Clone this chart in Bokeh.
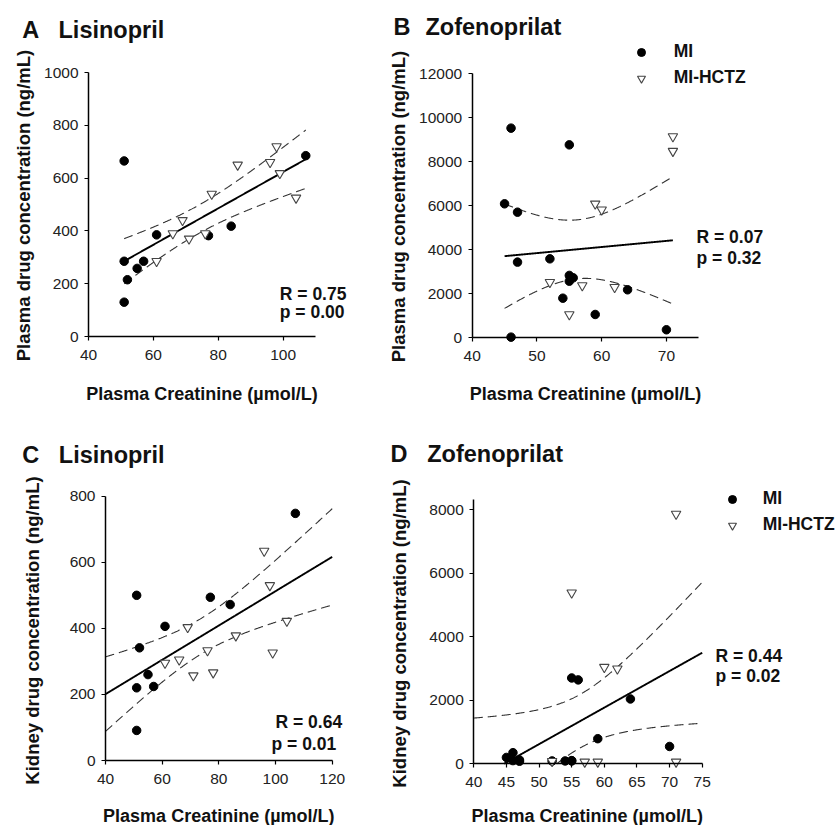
import numpy as np
from bokeh.plotting import figure
from bokeh.layouts import column, row
from bokeh.models import Label, Legend, LegendItem, Range1d, FixedTicker, LinearAxis
from bokeh.embed import file_html
from bokeh.resources import INLINE

# ---------------- data ----------------
# Panel A: Lisinopril, plasma
a_mi_x = [51, 51, 51, 52, 55, 57, 61, 77, 84, 107]
a_mi_y = [665, 285, 130, 215, 258, 285, 385, 382, 418, 685]
a_hctz_x = [61, 66, 69, 71, 76, 78, 86, 96, 98, 99, 104]
a_hctz_y = [285, 390, 440, 370, 390, 540, 650, 660, 720, 618, 525]

# Panel B: Zofenoprilat, plasma
b_mi_x = [46, 55, 45, 47, 47, 52, 55, 55, 55.6, 54, 59, 64, 70, 46]
b_mi_y = [9530, 8770, 6090, 5710, 3440, 3590, 2836, 2573, 2727, 1800, 1060, 2182, 365, 30]
b_hctz_x = [71, 71, 59, 60, 52, 57, 62, 55]
b_hctz_y = [9150, 8485, 6090, 5820, 2527, 2377, 2300, 1060]

# Panel C: Lisinopril, kidney
c_mi_x = [51, 52, 61, 55, 51, 57, 51, 77, 84, 107]
c_mi_y = [500, 341, 406, 260, 220, 224, 91, 494, 472, 748]
c_hctz_x = [69, 61, 66, 71, 76, 78, 86, 96, 98, 99, 104]
c_hctz_y = [403, 295, 305, 257, 333, 266, 378, 634, 530, 326, 422]

# Panel D: Zofenoprilat, kidney
d_mi_x = [45, 46, 46, 47, 47, 52, 54, 55, 55, 55, 56, 59, 64, 70]
d_mi_y = [200, 350, 100, 120, 80, 90, 90, 100, 2700, 90, 2640, 790, 2040, 545]
d_hctz_x = [52, 55, 57, 59, 60, 62, 71, 71]
d_hctz_y = [80, 5380, 60, 60, 3040, 2990, 7860, 60]

stats = {"A": ("R = 0.75", "p = 0.00"), "B": ("R = 0.07", "p = 0.32"),
         "C": ("R = 0.64", "p = 0.01"), "D": ("R = 0.44", "p = 0.02")}
drug = {"A": "Lisinopril", "B": "Zofenoprilat", "C": "Lisinopril", "D": "Zofenoprilat"}
xlabel = "Plasma Creatinine (\u00b5mol/L)"
ylab_plasma = "Plasma drug concentration (ng/mL)"
ylab_kidney = "Kidney drug concentration (ng/mL)"
legend_labels = ["MI", "MI-HCTZ"]

FONT = "Liberation Sans"


def fit_band(xs, ys, x0, x1, tcrit):
    x = np.asarray(xs, float)
    y = np.asarray(ys, float)
    n = len(x)
    b, a = np.polyfit(x, y, 1)
    xx = np.linspace(x0, x1, 400)
    yy = a + b * xx
    s = np.sqrt(np.sum((y - (a + b * x)) ** 2) / (n - 2))
    se = s * np.sqrt(1.0 / n + (xx - x.mean()) ** 2 / np.sum((x - x.mean()) ** 2))
    lo, hi = yy - tcrit * se, yy + tcrit * se
    # the original clips everything below the x axis
    clip = lambda v: np.where(v < 0, np.nan, v)
    return xx, clip(yy), clip(lo), clip(hi)


def panel(cfg):
    fx0, fy0, fx1, fy1 = cfg["page"]          # figure rectangle on the page
    L, R, T, B = cfg["frame"]                 # axis box on the page
    (xa, xb), (ya, yb) = cfg["xb"], cfg["yb"]
    kx = (xb - xa) / (R - L)
    ky = (yb - ya) / (B - T)
    xr = (xa - (L - fx0) * kx, xb + (fx1 - R) * kx)
    yr = (ya - (fy1 - B) * ky, yb + (T - fy0) * ky)
    w, h = int(round(fx1 - fx0)), int(round(fy1 - fy0))
    p = figure(width=w, height=h, x_range=Range1d(*xr), y_range=Range1d(*yr),
               x_axis_type=None, y_axis_type=None,
               output_backend="svg", toolbar_location=None, min_border=0)
    p.outline_line_color = None
    p.background_fill_color = "white"
    p.border_fill_color = "white"

    def style(ax):
        ax.axis_line_width = 1.5
        ax.axis_line_color = "black"
        ax.major_tick_line_color = "black"
        ax.major_tick_line_width = 1.2
        ax.major_tick_in = 0
        ax.major_tick_out = 4
        ax.minor_tick_line_color = None
        ax.major_label_text_font = FONT
        ax.major_label_text_font_size = "15.5px"
        ax.major_label_text_color = "#222222"

    xax = LinearAxis(fixed_location=ya, bounds=(xa, cfg.get("xend", xb)),
                     ticker=FixedTicker(ticks=cfg["xt"]))
    yax = LinearAxis(fixed_location=xa, bounds=(ya, cfg.get("yend", yb)),
                     ticker=FixedTicker(ticks=cfg["yt"]))
    style(xax)
    style(yax)
    xax.major_label_standoff = 9
    yax.major_label_standoff = 6
    p.add_layout(xax, "below")
    p.add_layout(yax, "left")

    mx, my, hx, hy = cfg["data"]
    allx = list(mx) + list(hx)
    ally = list(my) + list(hy)
    f0, f1 = cfg["fitx"] if cfg["fitx"] else (min(allx), max(allx))
    xx, yy, lo, hi = fit_band(allx, ally, f0, f1, cfg["t"])
    p.line(xx, hi, line_color="#333333", line_width=1.1, line_dash="9 5")
    p.line(xx, lo, line_color="#333333", line_width=1.1, line_dash="9 5")
    p.line(xx, yy, line_color="black", line_width=1.9)

    r_mi = p.scatter(mx, my, marker="circle", size=8.5, fill_color="black", line_color="black")
    r_h = p.scatter(hx, hy, marker="inverted_triangle", size=9.5, fill_color="white",
                    line_color="#444444", line_width=1.1)

    def to_data(px, py):
        return (xr[0] + (px - fx0) * kx, yr[0] + (fy1 - py) * ky)

    def put(text, px, py, size, align="left", baseline="alphabetic", angle=0.0):
        x, y = to_data(px, py)
        p.add_layout(Label(x=x, y=y, text=text, text_font=FONT, text_font_size=size,
                           text_font_style="bold", angle=angle,
                           text_color="#111111", text_baseline=baseline,
                           text_align=align))

    key = cfg["key"]
    tl, tb = cfg["title"]
    put(key, tl[0], tb, "23.5px")
    put(drug[key], tl[1], tb, "23.5px")
    (rx, ry), (px_, py_) = cfg["stat"]
    put(stats[key][0], rx, ry, "17.5px")
    put(stats[key][1], px_, py_, "17.5px")
    xlx, xly = cfg["xlab"]
    put(xlabel, xlx, xly, "18px", align="center")
    ylx, yly = cfg["ylabpos"]
    put(cfg["ylab"], ylx, yly, "18.5px", align="center", baseline="middle", angle=np.pi / 2)

    if cfg.get("legend"):
        gx, gy, stand = cfg["legend"]   # glyph-box left, legend bottom (page px)
        leg = Legend(items=[LegendItem(label=legend_labels[0], renderers=[r_mi]),
                            LegendItem(label=legend_labels[1], renderers=[r_h])],
                     location=(gx - fx0, fy1 - gy), padding=0, margin=0, spacing=5,
                     glyph_width=20, glyph_height=20, label_height=20,
                     label_standoff=stand, border_line_color=None,
                     background_fill_alpha=0, label_text_font=FONT,
                     label_text_font_size="17.5px", label_text_font_style="bold",
                     label_text_color="#111111")
        p.add_layout(leg, "center")
    return p


TOP, MID, BOT = 0, 404, 825
LEFT, SPLIT, RIGHT = 0, 375, 836

pA = panel(dict(key="A", page=(LEFT, TOP, SPLIT, MID), frame=(88, 315, 72, 336),
                xb=(40, 110), yb=(0, 1000),
                xt=[40, 60, 80, 100], yt=[0, 200, 400, 600, 800, 1000], ylab=ylab_plasma,
                data=(a_mi_x, a_mi_y, a_hctz_x, a_hctz_y), fitx=None, t=2.093,
                title=((21.7, 58), 29.3), stat=((279.3, 293.3), (279.3, 311.5)),
                xlab=(201.5, 393.3), ylabpos=(23, 205)))
pB = panel(dict(key="B", page=(SPLIT, TOP, RIGHT, MID), frame=(471.7, 698.3, 73.3, 337.3),
                xb=(40, 75), yb=(0, 12000),
                xt=[40, 50, 60, 70], yt=list(range(0, 12001, 2000)), ylab=ylab_plasma,
                data=(b_mi_x, b_mi_y, b_hctz_x, b_hctz_y), fitx=None, t=2.086,
                title=((393, 425), 26.7), stat=((696, 236.7), (696, 257)),
                xlab=(585, 393.3), ylabpos=(398, 206), legend=(630.7, 88.3, 23)))
pC = panel(dict(key="C", page=(LEFT, MID, SPLIT, BOT), frame=(105, 331.7, 495.7, 760),
                xb=(40, 120), yb=(0, 800),
                xt=[40, 60, 80, 100, 120], yt=[0, 200, 400, 600, 800], ylab=ylab_kidney,
                data=(c_mi_x, c_mi_y, c_hctz_x, c_hctz_y), fitx=(40, 120), t=2.093,
                title=((21.7, 58.3), 454), stat=((275, 721.7), (271, 743)),
                xlab=(218.3, 815), ylabpos=(32, 630)))
pD = panel(dict(key="D", page=(SPLIT, MID, RIGHT, BOT), frame=(473.3, 701.7, 509, 763.3),
                xb=(40, 75), yb=(0, 8000), yend=8300,
                xt=[40, 45, 50, 55, 60, 65, 70, 75], yt=[0, 2000, 4000, 6000, 8000], ylab=ylab_kidney,
                data=(d_mi_x, d_mi_y, d_hctz_x, d_hctz_y), fitx=(40, 75), t=2.086,
                title=((390, 426.7), 453.3), stat=((715, 655), (715, 675)),
                xlab=(586.7, 815.5), ylabpos=(399, 633), legend=(721.7, 535, 21)))

layout = column(row(pA, pB), row(pC, pD))
open("out.html", "w").write(file_html(layout, INLINE))
